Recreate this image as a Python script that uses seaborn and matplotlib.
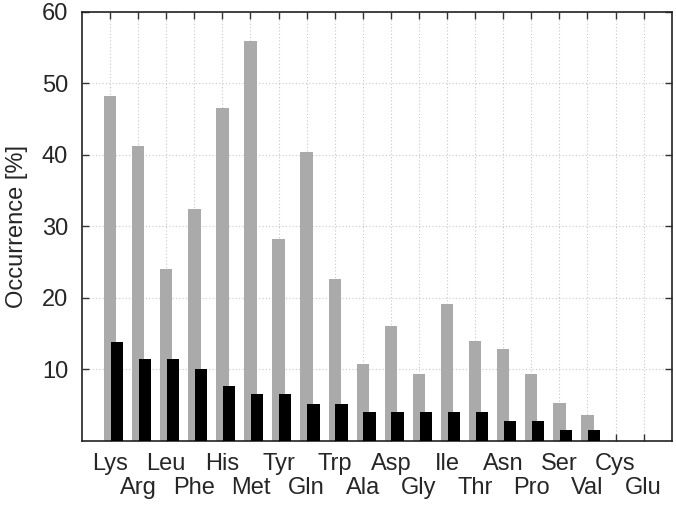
import matplotlib
matplotlib.use("Agg")
import matplotlib.pyplot as plt
import numpy as np
import pandas as pd
import seaborn as sns

residues = ['Lys', 'Arg', 'Leu', 'Phe', 'His', 'Met', 'Tyr', 'Gln', 'Trp', 'Ala',
            'Asp', 'Gly', 'Ile', 'Thr', 'Asn', 'Pro', 'Ser', 'Val', 'Cys', 'Glu']
gray_values = [48.2, 41.3, 24.0, 32.4, 46.6, 55.9, 28.2, 40.4, 22.6, 10.7,
               16.1, 9.4, 19.1, 14.0, 12.8, 9.4, 5.3, 3.6, 0.0, 0.0]
black_values = [13.8, 11.4, 11.4, 10.1, 7.7, 6.5, 6.5, 5.2, 5.2, 4.0,
                4.0, 4.0, 4.0, 4.0, 2.8, 2.8, 1.5, 1.5, 0.0, 0.0]
y_ticks = [10, 20, 30, 40, 50, 60]

sns.set_theme(style="ticks")
plt.rcParams['font.family'] = ['Liberation Sans', 'DejaVu Sans']

idx = np.arange(len(residues))
df_gray = pd.DataFrame({'pos': idx.astype(float), 'value': gray_values})
df_black = pd.DataFrame({'pos': idx + 0.24, 'value': black_values})

fig, ax = plt.subplots(figsize=(6.76, 5.05), dpi=100)
fig.subplots_adjust(left=82 / 676, right=671.7 / 676, top=1 - 12 / 505, bottom=1 - 440.7 / 505)

sns.barplot(data=df_gray, x='pos', y='value', native_scale=True, width=0.44,
            color='#aaaaaa', saturation=1, linewidth=0, ax=ax, zorder=2)
sns.barplot(data=df_black, x='pos', y='value', native_scale=True, width=0.44,
            color='black', saturation=1, linewidth=0, ax=ax, zorder=3)

ax.set_xlim(-1, len(residues))
ax.set_ylim(0, 60)
ax.set_yticks(y_ticks)
# staggered labels: even residues on the first row, odd ones on the second
ax.set_xticks(idx[::2])
ax.set_xticklabels(residues[::2])
ax.set_xticks(idx[1::2], minor=True)
ax.set_xticklabels(residues[1::2], minor=True)
ax.set_xlabel('')
ax.set_ylabel('Occurrence [%]', fontsize=17, labelpad=10)

ax.grid(True, which='both', axis='x', linestyle=(0, (1, 2)), color='#c8c8c8', linewidth=0.8, zorder=0)
ax.grid(True, which='major', axis='y', linestyle=(0, (1, 2)), color='#c8c8c8', linewidth=0.8, zorder=0)
ax.set_axisbelow(True)
ax.tick_params(axis='both', which='both', direction='in', top=True, right=True, length=5,
               width=1, color='#333333', labelsize=17)
ax.tick_params(axis='x', which='major', pad=9)
ax.tick_params(axis='x', which='minor', pad=26)
ax.tick_params(axis='y', pad=10)
for s in ax.spines.values():
    s.set_visible(True)
    s.set_linewidth(1.2)
    s.set_color('#222222')

fig.savefig('out.png', dpi=100)
